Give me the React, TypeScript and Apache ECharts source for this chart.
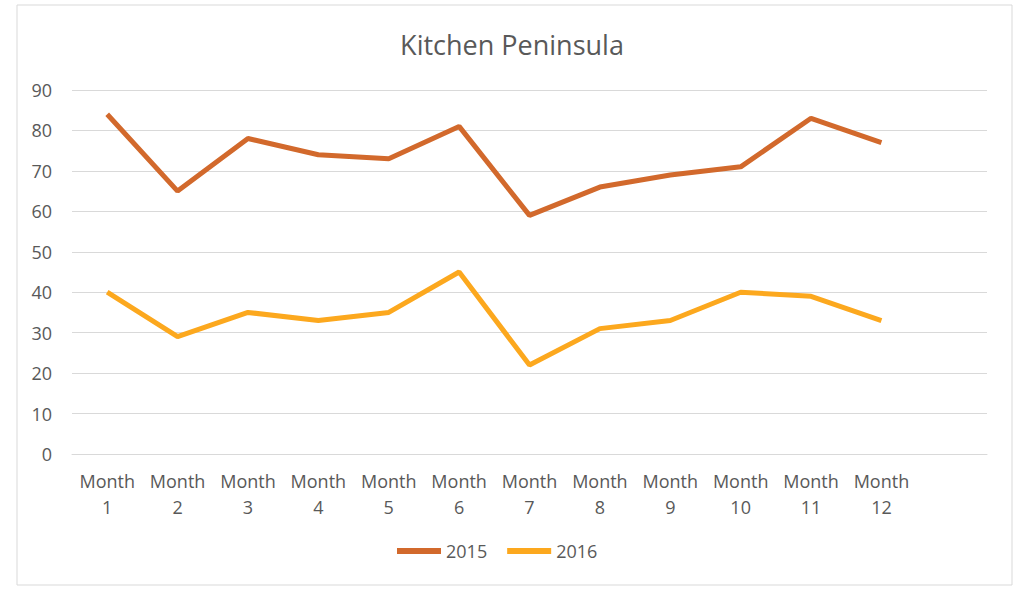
import React, { useEffect, useRef } from "react";
import * as echarts from "echarts";

const categories = ["Month\n1", "Month\n2", "Month\n3", "Month\n4", "Month\n5", "Month\n6", "Month\n7", "Month\n8", "Month\n9", "Month\n10", "Month\n11", "Month\n12", ""];
const series2015 = [84, 65, 78, 74, 73, 81, 59, 66, 69, 71, 83, 77, null];
const series2016 = [40, 29, 35, 33, 35, 45, 22, 31, 33, 40, 39, 33, null];
const yTicks = { min: 0, max: 90, interval: 10 };

export default function App() {
  const ref = useRef<HTMLDivElement>(null);
  useEffect(() => {
    const chart = echarts.init(ref.current!, null, { renderer: "svg" });
    const font = "'Open Sans', sans-serif";
    chart.setOption({
      animation: false,
      backgroundColor: "#ffffff",
      textStyle: { fontFamily: font },
      title: {
        text: "Kitchen Peninsula",
        left: "center",
        top: 26,
        textStyle: { fontFamily: font, fontSize: 27, fontWeight: "normal", color: "#595959" },
      },
      graphic: [
        {
          type: "rect",
          shape: { x: 17, y: 5, width: 995, height: 580 },
          style: { fill: "none", stroke: "#d9d9d9", lineWidth: 1 },
          silent: true,
        },
      ],
      legend: {
        top: 537,
        left: 392,
        icon: "rect",
        itemWidth: 44,
        itemHeight: 6,
        itemGap: 20,
        textStyle: { fontFamily: font, fontSize: 18, color: "#595959" },
        data: ["2015", "2016"],
      },
      grid: { left: 72, right: 37, top: 90, bottom: 146, containLabel: false },
      xAxis: {
        type: "category",
        data: categories,
        boundaryGap: true,
        axisLine: { lineStyle: { color: "#d9d9d9" } },
        axisTick: { show: false },
        axisLabel: { color: "#595959", fontSize: 18, lineHeight: 26, margin: 14, fontFamily: font, interval: 0 },
      },
      yAxis: {
        type: "value",
        min: yTicks.min,
        max: yTicks.max,
        interval: yTicks.interval,
        axisLine: { show: false },
        axisTick: { show: false },
        splitLine: { lineStyle: { color: "#d9d9d9", width: 1 } },
        axisLabel: { color: "#595959", fontSize: 18, margin: 20, fontFamily: font },
      },
      series: [
        {
          name: "2015",
          type: "line",
          data: series2015,
          symbol: "none",
          lineStyle: { width: 5, color: "#D2692C" },
          itemStyle: { color: "#D2692C" },
        },
        {
          name: "2016",
          type: "line",
          data: series2016,
          symbol: "none",
          lineStyle: { width: 5, color: "#FCA81E" },
          itemStyle: { color: "#FCA81E" },
        },
      ],
    });
    return () => chart.dispose();
  }, []);
  return <div ref={ref} style={{ position: "absolute", left: 0, top: 0, width: 1024, height: 600 }} />;
}
